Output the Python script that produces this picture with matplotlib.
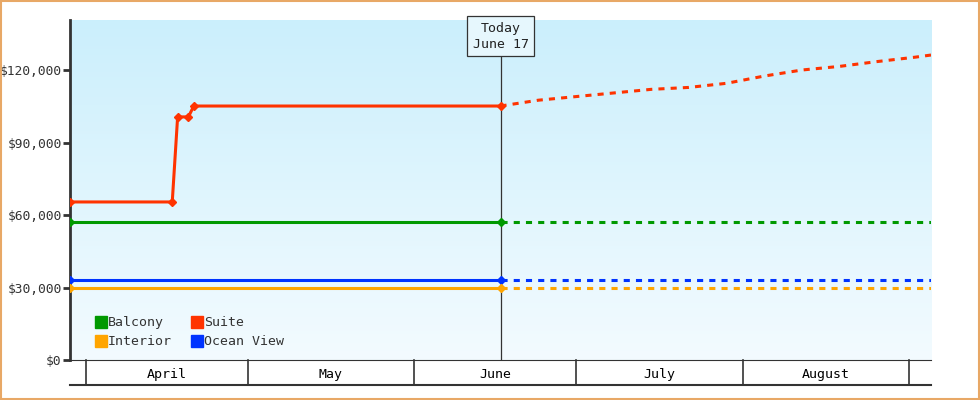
import matplotlib
matplotlib.use("Agg")
import matplotlib.pyplot as plt
import matplotlib.transforms as mtransforms
from matplotlib.patches import Rectangle
from matplotlib.colors import LinearSegmentedColormap
import numpy as np
import datetime as dt

D = lambda s: dt.datetime.strptime(s, "%Y-%m-%d")

start = "2024-03-29"
today = "2024-06-17"
end = "2024-09-05"

suite_hist_dates = [start, "2024-04-17", "2024-04-18", "2024-04-20", "2024-04-21", today]
suite_hist_vals = [65400, 65400, 100600, 100600, 105100, 105100]
suite_fc_dates = [today, "2024-06-24", "2024-07-01", "2024-07-08", "2024-07-15", "2024-07-22",
                  "2024-07-29", "2024-08-05", "2024-08-12", "2024-08-19", "2024-08-26",
                  "2024-09-02", end]
suite_fc_vals = [105100, 107500, 109000, 110500, 112000, 112800, 114500, 117500,
                 120000, 121500, 123500, 125300, 126200]

flat_series = {"Balcony": 57100, "Ocean View": 33100, "Interior": 29800}
colors = {"Balcony": "#009900", "Suite": "#ff3300", "Interior": "#ffa500", "Ocean View": "#0033ff"}
months = ["April", "May", "June", "July", "August"]
month_starts = ["2024-04-01", "2024-05-01", "2024-06-01", "2024-07-01", "2024-08-01", "2024-09-01"]
yticks = [0, 30000, 60000, 90000, 120000]

plt.rcParams["font.family"] = ["DejaVu Sans Mono"]
fig = plt.figure(figsize=(9.8, 4.0), dpi=100)
fig.patches.append(Rectangle((0.001, 0.002), 0.998, 0.996, transform=fig.transFigure,
                             fill=False, ec="#e8a866", lw=1.5))
ax = fig.add_axes([70/980, 40/400, 861/980, 340/400])

grad = np.linspace(0, 1, 256).reshape(-1, 1)
cm = LinearSegmentedColormap.from_list("g", ["#cbeffc", "#f3fbff"])
ax.imshow(grad, aspect="auto", cmap=cm, extent=[0, 1, 0, 1], transform=ax.transAxes, zorder=0)

lw = 2.2
for name, v in flat_series.items():
    c = colors[name]
    ax.plot([D(start), D(today)], [v, v], color=c, lw=lw, marker="D", ms=4.5, zorder=3)
    ax.plot([D(today), D(end)], [v, v], color=c, lw=lw, ls=(0, (2, 2)), zorder=3)
ax.plot([D(d) for d in suite_hist_dates], suite_hist_vals, color=colors["Suite"], lw=lw,
        marker="D", ms=4.5, zorder=3)
ax.plot([D(d) for d in suite_fc_dates], suite_fc_vals, color=colors["Suite"], lw=lw,
        ls=(0, (2, 2)), zorder=3)

ax.set_xlim(D(start), D(end))
ax.set_ylim(0, 140700)
ax.set_yticks(yticks)
ax.set_yticklabels(["${:,}".format(v) for v in yticks], fontsize=9.3, color="#333333")
ax.tick_params(axis="y", length=5, width=2, color="#333333", pad=1)
ax.set_xticks([])
for s in ["top", "right"]:
    ax.spines[s].set_visible(False)
ax.spines["left"].set_linewidth(2)
ax.spines["left"].set_color("#333333")
ax.spines["bottom"].set_color("#333333")

ax.axvline(D(today), color="#333333", lw=0.9, zorder=2)
ax.text(D(today), 0.995, "Today\nJune 17", transform=ax.get_xaxis_transform(), ha="center",
        va="top", fontsize=9.5, linespacing=1.35, color="#222222",
        bbox=dict(boxstyle="square,pad=0.4", fc="#e6f7fd", ec="#333333", lw=0.9), zorder=5)

tr = mtransforms.blended_transform_factory(ax.transData, ax.transAxes)
h = 25/340
for ms in month_starts:
    ax.plot([D(ms), D(ms)], [0, -h], transform=tr, color="#333333", lw=1.2, clip_on=False)
ax.plot([0, 1], [-h, -h], transform=ax.transAxes, color="#333333", lw=1.5, clip_on=False)
for i, m in enumerate(months):
    a, b = D(month_starts[i]), D(month_starts[i+1])
    ax.text(a + (b - a)/2, -h/2 - 0.005, m, transform=tr, ha="center", va="center",
            fontsize=9.5, color="black")

handles = [plt.Line2D([], [], ls="", marker="s", ms=8, color=colors[n]) for n in
           ["Balcony", "Interior", "Suite", "Ocean View"]]
ax.legend(handles, ["Balcony", "Interior", "Suite", "Ocean View"], ncol=2, loc="lower left",
          bbox_to_anchor=(0.015, 0.0), frameon=False, fontsize=9.5, handletextpad=0.0,
          columnspacing=1.4, labelspacing=0.45, handlelength=1, labelcolor="#333333")

fig.savefig("out.png", dpi=100)
